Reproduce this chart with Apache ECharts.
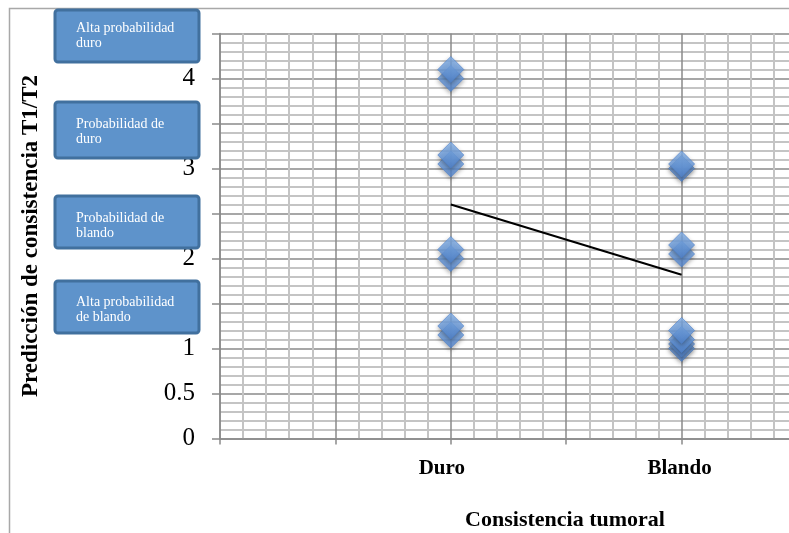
<!DOCTYPE html>
<html>
<head>
<meta charset="utf-8">
<script src="https://cdn.jsdelivr.net/npm/echarts@6/dist/echarts.min.js"></script>
<style>
  html, body { margin: 0; padding: 0; background: #ffffff; }
  #chart { width: 789px; height: 533px; }
</style>
</head>
<body>
<div id="chart"></div>
<script>
// ---- data ----
const categories = ['Duro', 'Blando'];
const categoryPositions = [2, 4];
const duroValues = [1.15, 1.25, 2.0, 2.1, 3.05, 3.15, 4.0, 4.1];
const blandoValues = [1.0, 1.05, 1.1, 1.2, 2.05, 2.15, 3.0, 3.05];
const meanValues = [2.6, 1.82];
const xTickLabels = ['', '', 'Duro', '', 'Blando', ''];
const yTickLabels = ['0', '0.5', '1', '', '2', '', '3', '', '4', ''];
const boxLabels = [
  'Alta probabilidad\nduro',
  'Probabilidad de\nduro',
  'Probabilidad de\nblando',
  'Alta probabilidad\nde blando'
];
const xAxisTitle = 'Consistencia tumoral';
const yAxisTitle = 'Predicción de consistencia T1/T2';

// ---- build ----
const scatterData = [];
duroValues.forEach(v => scatterData.push([categoryPositions[0], v]));
blandoValues.forEach(v => scatterData.push([categoryPositions[1], v]));
const lineData = categoryPositions.map((x, i) => [x, meanValues[i]]);

const boxGeom = [
  { y: 10, h: 52, t: 21 },
  { y: 102, h: 56, t: 117 },
  { y: 196, h: 52, t: 211 },
  { y: 281, h: 52, t: 295 }
];

const serif = '"Liberation Serif", "DejaVu Serif", serif';

const graphics = [
  {
    type: 'rect', z: 1,
    shape: { x: 9.5, y: 8.5, width: 900, height: 700 },
    style: { fill: 'none', stroke: '#A8A8A8', lineWidth: 1.5 },
    silent: true
  }
];
boxLabels.forEach((txt, i) => {
  const g = boxGeom[i];
  graphics.push({
    type: 'rect', z: 10,
    shape: { x: 55, y: g.y, width: 144, height: g.h, r: 3 },
    style: { fill: '#5E93CB', stroke: '#41709E', lineWidth: 3 },
    silent: true
  });
  graphics.push({
    type: 'text', z: 11,
    x: 76, y: g.t,
    style: {
      text: txt, fill: '#ffffff', font: '14px ' + serif,
      lineHeight: 15, textAlign: 'left', textVerticalAlign: 'top'
    },
    silent: true
  });
});
graphics.push({
  type: 'text', z: 11,
  x: 565, y: 520,
  style: {
    text: xAxisTitle, fill: '#000000', font: 'bold 22px ' + serif,
    textAlign: 'center', textVerticalAlign: 'middle'
  },
  silent: true
});
graphics.push({
  type: 'text', z: 11,
  x: 31, y: 236, rotation: Math.PI / 2,
  style: {
    text: yAxisTitle, fill: '#000000', font: 'bold 23px ' + serif,
    textAlign: 'center', textVerticalAlign: 'middle'
  },
  silent: true
});

const labelStyle = { color: '#000000', fontFamily: serif, fontWeight: 'bold', fontSize: 21 };

const chart = echarts.init(document.getElementById('chart'), null, { renderer: 'canvas' });
chart.setOption({
  animation: false,
  backgroundColor: '#ffffff',
  grid: { left: 220, top: 33.5, width: 577, height: 405, containLabel: false, outerBoundsMode: 'none' },
  xAxis: {
    type: 'value', min: 0, max: 5, interval: 1,
    axisLine: { show: true, lineStyle: { color: '#8A8A8A', width: 1.5 } },
    axisTick: { show: true, length: 6, inside: false, lineStyle: { color: '#8A8A8A', width: 1.5 } },
    minorTick: { show: false, splitNumber: 5 },
    splitLine: { show: true, lineStyle: { color: '#8A8A8A', width: 1.5 } },
    minorSplitLine: { show: true, lineStyle: { color: '#C4C4C4', width: 2 } },
    axisLabel: {
      margin: 20, color: '#000000', fontFamily: serif, fontWeight: 'bold', fontSize: 21,
      formatter: v => {
        const t = xTickLabels[Math.round(v)] || '';
        if (!t) return '';
        return (Math.round(v) === categoryPositions[0] ? '{d|' : '{b|') + t + '}';
      },
      rich: {
        d: Object.assign({ padding: [0, 18, 0, 0] }, labelStyle),
        b: Object.assign({ padding: [0, 4, 0, 0] }, labelStyle)
      }
    }
  },
  yAxis: {
    type: 'value', min: 0, max: 4.5, interval: 0.5,
    axisLine: { show: true, lineStyle: { color: '#8A8A8A', width: 1.5 } },
    axisTick: { show: true, length: 8, inside: false, lineStyle: { color: '#8A8A8A', width: 1.5 } },
    minorTick: { show: false, splitNumber: 5 },
    splitLine: { show: true, lineStyle: { color: '#8A8A8A', width: 1.5 } },
    minorSplitLine: { show: true, lineStyle: { color: '#C4C4C4', width: 2 } },
    axisLabel: {
      margin: 25, color: '#000000', fontFamily: serif, fontSize: 25,
      formatter: v => yTickLabels[Math.round(v * 2)] || ''
    }
  },
  series: [
    {
      type: 'line',
      data: lineData,
      symbol: 'none',
      lineStyle: { color: '#000000', width: 2 },
      silent: true,
      z: 3
    },
    {
      type: 'scatter',
      data: scatterData,
      symbol: 'diamond',
      symbolSize: [26, 26],
      itemStyle: {
        color: new echarts.graphic.LinearGradient(0, 0, 0, 1, [
          { offset: 0, color: '#8AB8F0' },
          { offset: 0.5, color: '#6C9FE2' },
          { offset: 1, color: '#5488D4' }
        ]),
        borderColor: '#4F82CC',
        borderWidth: 0.8,
        shadowBlur: 4,
        shadowColor: 'rgba(0,0,0,0.4)',
        shadowOffsetY: 2,
        shadowOffsetX: 0
      },
      emphasis: { disabled: true },
      silent: true,
      z: 4
    }
  ],
  graphic: graphics
});
</script>
</body>
</html>
